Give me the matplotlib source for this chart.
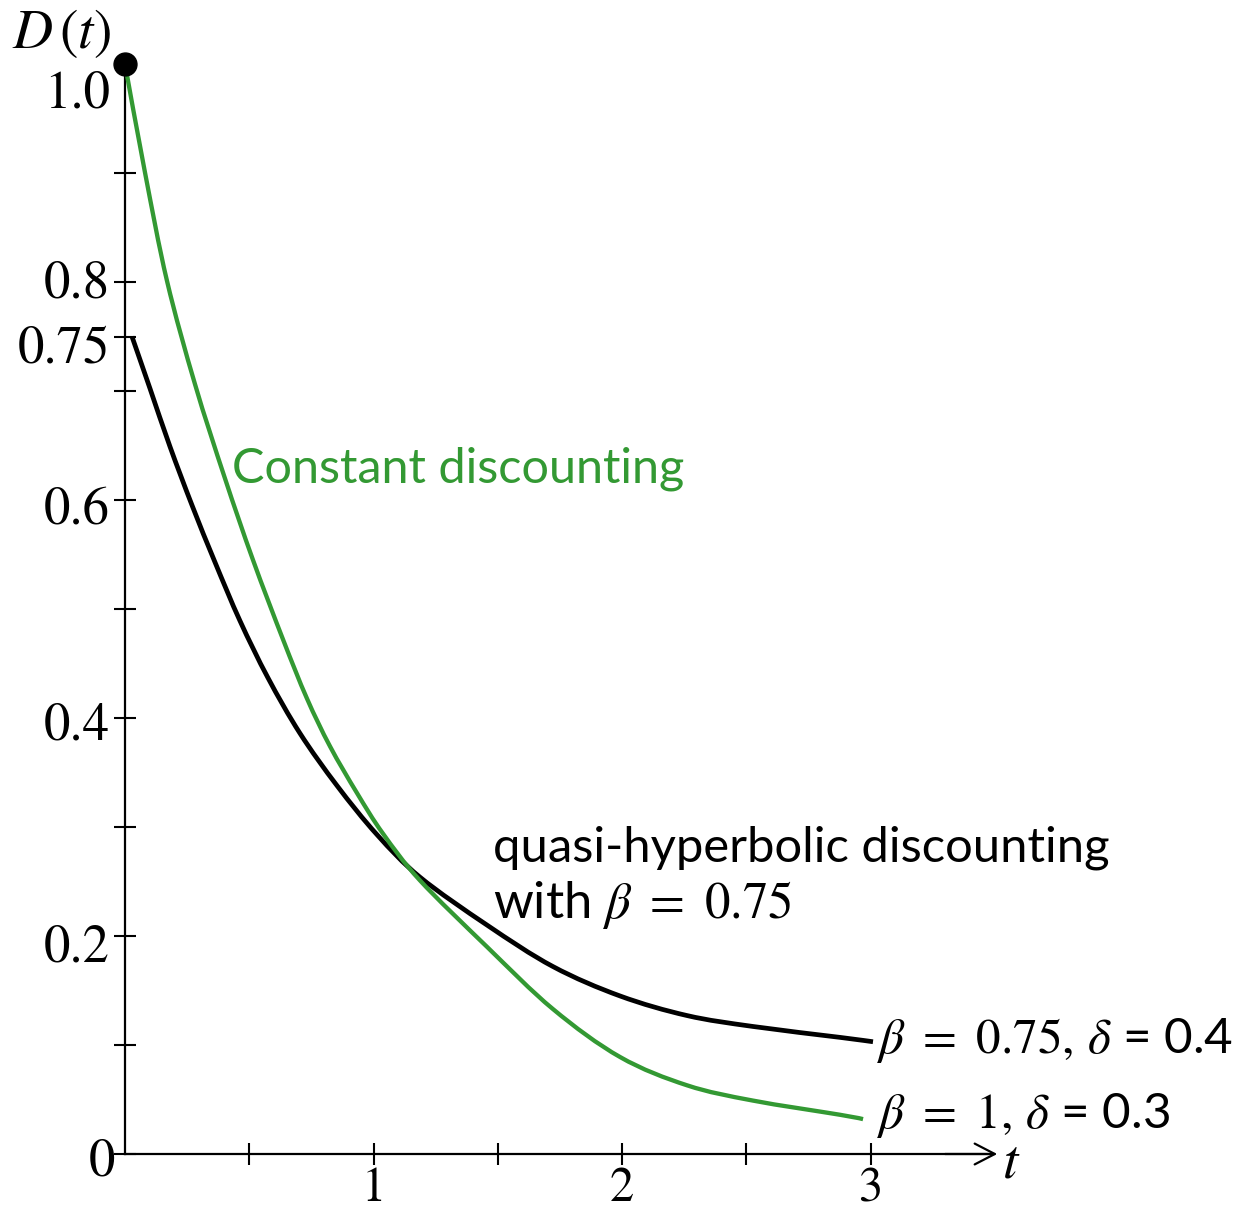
import matplotlib
matplotlib.use("Agg")
import matplotlib.pyplot as plt
from matplotlib.path import Path
from matplotlib.patches import PathPatch

plt.rcParams['mathtext.fontset'] = 'stix'

# Discount factor D(t) sampled along each curve
t_constant = [0.0, 0.080, 0.169, 0.282, 0.402, 0.515, 0.636, 0.732, 0.825, 0.934,
              1.038, 1.187, 1.457, 1.722, 1.992, 2.262, 2.527, 2.877, 2.970]
d_constant = [1.0, 0.901, 0.801, 0.706, 0.620, 0.545, 0.472, 0.418, 0.374, 0.331,
              0.294, 0.251, 0.190, 0.133, 0.089, 0.063, 0.049, 0.036, 0.032]

t_quasi = [0.028, 0.101, 0.181, 0.270, 0.362, 0.463, 0.575, 0.704, 0.853, 1.014,
           1.187, 1.457, 1.722, 1.992, 2.262, 2.527, 2.877, 3.010]
d_quasi = [0.750, 0.702, 0.649, 0.595, 0.543, 0.489, 0.437, 0.386, 0.338, 0.293,
           0.254, 0.210, 0.172, 0.145, 0.127, 0.117, 0.107, 0.103]

start_point = (0.0, 1.0)

y_ticks = [0, 0.1, 0.2, 0.3, 0.4, 0.5, 0.6, 0.7, 0.75, 0.8, 0.9]
y_tick_labels = ['0', '0.2', '0.4', '0.6', '0.75', '0.8', '1.0']
y_label_values = [0, 0.2, 0.4, 0.6, 0.75, 0.8, 1.0]
x_ticks = [0.5, 1, 1.5, 2, 2.5, 3]
x_tick_labels = ['1', '2', '3']
x_label_values = [1, 2, 3]

GREEN = '#339933'
SERIF = 'STIXGeneral'
SANS = 'Lato'


def smooth_path(xs, ys):
    """Catmull-Rom spline through the sample points, as cubic Bezier segments."""
    pts = list(zip(xs, ys))
    n = len(pts)
    verts = [pts[0]]
    codes = [Path.MOVETO]
    for i in range(n - 1):
        p0 = pts[i - 1] if i > 0 else pts[i]
        p1 = pts[i]
        p2 = pts[i + 1]
        p3 = pts[i + 2] if i + 2 < n else pts[i + 1]
        c1 = (p1[0] + (p2[0] - p0[0]) / 6, p1[1] + (p2[1] - p0[1]) / 6)
        c2 = (p2[0] - (p3[0] - p1[0]) / 6, p2[1] - (p3[1] - p1[1]) / 6)
        verts += [c1, c2, p2]
        codes += [Path.CURVE4] * 3
    return Path(verts, codes)


fig = plt.figure(figsize=(12.54, 12.11), dpi=100)
ax = fig.add_axes([0, 0, 1, 1])
ax.set_xlim(-125 / 248.5, (1254 - 125) / 248.5)
ax.set_ylim(-57 / 1090, 1154 / 1090)
ax.patch.set_visible(False)

for side in ['top', 'right']:
    ax.spines[side].set_visible(False)
ax.spines['left'].set_position(('data', 0))
ax.spines['bottom'].set_position(('data', 0))
ax.spines['left'].set_bounds(0, 1.0)
ax.spines['bottom'].set_bounds(0, 3.48)
for side in ['left', 'bottom']:
    ax.spines[side].set_linewidth(1.6)

ax.set_yticks(y_ticks)
ax.set_yticklabels([])
ax.set_xticks(x_ticks)
ax.set_xticklabels([])
ax.tick_params(axis='both', direction='inout', length=16, width=1.5, color='black')

# arrow head on the time axis
ax.annotate('', xy=(3.51, 0), xytext=(3.30, 0),
            arrowprops=dict(arrowstyle='->,head_length=1.45,head_width=0.75',
                            lw=1.6, color='black', shrinkA=0, shrinkB=0))

# curves
ax.add_patch(PathPatch(smooth_path(t_quasi, d_quasi), fill=False, edgecolor='black',
                       lw=3.4, capstyle='butt', joinstyle='round', zorder=3))
ax.add_patch(PathPatch(smooth_path(t_constant, d_constant), fill=False, edgecolor=GREEN,
                       lw=3.1, capstyle='butt', joinstyle='round', zorder=4))
ax.plot([start_point[0]], [start_point[1]], 'o', color='black', ms=16.5, zorder=5)

# y tick labels (pixel offsets: right edge left of the axis, baseline below tick)
y_label_offsets = {0: (-10, -22), 0.2: (-15, -26), 0.4: (-15, -22), 0.6: (-15, -23),
                   0.75: (-15, -26), 0.8: (-15, -16), 1.0: (-15, -43)}
for val, txt in zip(y_label_values, y_tick_labels):
    ax.annotate(txt, xy=(0, val), xytext=y_label_offsets[val], textcoords='offset pixels',
                ha='right', va='baseline', fontsize=38, family=SERIF)

for val, txt in zip(x_label_values, x_tick_labels):
    ax.annotate(txt, xy=(val, 0), xytext=(0, -47), textcoords='offset pixels',
                ha='center', va='baseline', fontsize=35, family=SERIF)

# axis titles
ax.text(-0.455, 1.0147, r'$D\,(t)$', fontsize=40, ha='left', va='baseline')
ax.text(3.529, -0.022, r'$t$', fontsize=40, ha='left', va='baseline')

# annotations
ax.text(0.4306, 0.6165, 'Constant discounting', color=GREEN, fontsize=35,
        family=SANS, ha='left', va='baseline')
ax.text(1.481, 0.268, 'quasi-hyperbolic discounting', color='black', fontsize=35.3,
        family=SANS, ha='left', va='baseline')
ax.text(1.481, 0.2165, r'with $\beta\ =\ 0.75$', color='black', fontsize=36.5,
        family=SANS, ha='left', va='baseline')
ax.text(3.026, 0.0927, r'$\beta\ =\ 0.75,\,\delta$ = 0.4', color='black', fontsize=35.5,
        family=SANS, ha='left', va='baseline')
ax.text(3.026, 0.0239, r'$\beta\ =\ 1,\,\delta$ = 0.3', color='black', fontsize=35.5,
        family=SANS, ha='left', va='baseline')

fig.savefig('out.png', dpi=100)
